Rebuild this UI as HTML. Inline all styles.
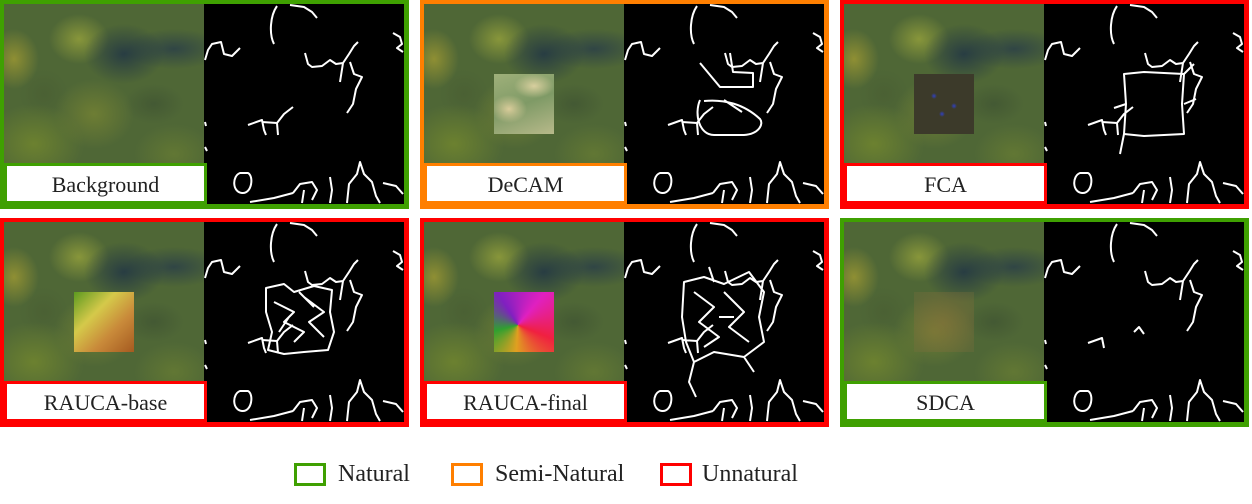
<!DOCTYPE html>
<html><head><meta charset="utf-8"><style>
body{margin:0;width:1252px;height:504px;background:#fff;position:relative;overflow:hidden;font-family:"Liberation Serif",serif}
.panel{position:absolute;width:400px;height:200px;border:5px solid;border-left-width:4px;border-top-width:4px}
.aerial{position:absolute;left:0;top:0;width:200px;height:200px;
background:
radial-gradient(ellipse 40px 30px at 120px 50px,rgba(30,50,70,.8),transparent),
radial-gradient(ellipse 50px 20px at 170px 45px,rgba(35,55,75,.7),transparent),
radial-gradient(ellipse 30px 25px at 75px 35px,rgba(160,170,60,.7),transparent),
radial-gradient(ellipse 25px 30px at 10px 55px,rgba(170,160,50,.7),transparent),
radial-gradient(ellipse 40px 35px at 90px 110px,rgba(130,140,50,.6),transparent),
radial-gradient(ellipse 50px 40px at 30px 140px,rgba(120,140,45,.7),transparent),
radial-gradient(ellipse 40px 30px at 170px 150px,rgba(110,130,50,.6),transparent),
radial-gradient(ellipse 60px 25px at 100px 185px,rgba(50,70,60,.6),transparent),
radial-gradient(ellipse 30px 20px at 150px 100px,rgba(60,80,50,.6),transparent),
radial-gradient(ellipse 25px 25px at 40px 90px,rgba(70,90,50,.5),transparent),
#4f6736}
.edges{position:absolute;left:200px;top:0;width:200px;height:200px;background:#000}
.patch{position:absolute;left:70px;top:70px;width:60px;height:60px}
.label{position:absolute;left:0;top:159px;width:197px;height:35px;border:3px solid;background:#fff;font-size:22px;text-align:center;line-height:38px;color:#222}
.leg{position:absolute;top:463px;width:26px;height:17px;border:3px solid}
.legt{position:absolute;top:461px;font-size:24px;color:#222}
</style></head><body>
<div id="fig"></div>
<div class="leg" style="left:294px;border-color:#3fa001"></div>
<div class="legt" style="left:338px">Natural</div>
<div class="leg" style="left:451px;border-color:#ff7f00"></div>
<div class="legt" style="left:495px">Semi-Natural</div>
<div class="leg" style="left:660px;border-color:#ff0000"></div>
<div class="legt" style="left:702px">Unnatural</div>
<script>
const names=["Background","DeCAM","FCA","RAUCA-base","RAUCA-final","SDCA"];
const colors=["#3fa001","#ff7f00","#ff0000","#ff0000","#ff0000","#3fa001"];
const patchBg=["none",
"radial-gradient(ellipse 20px 12px at 40px 12px,#d8cf9e,transparent),radial-gradient(ellipse 18px 14px at 15px 35px,#d9cc9a,transparent),linear-gradient(160deg,#9fb07a,#7f9a66 50%,#b7b98a)",
"radial-gradient(circle 3px at 20px 22px,#3040c0,transparent),radial-gradient(circle 3px at 40px 32px,#3040c0,transparent),radial-gradient(circle 3px at 28px 40px,#3040c0,transparent),#3c3a2a",
"linear-gradient(135deg,#5c9a20,#d5c94a 35%,#c98a3a 65%,#a55a20)",
"conic-gradient(from 40deg at 40% 55%,#e020c0,#f02040,#e0a020,#30a030,#8020c0,#e020c0)",
"radial-gradient(circle at 50% 50%,rgba(150,110,60,.45),rgba(120,110,60,.3))"];
const base="M73,2 C66,12 65,30 70,40 M86,1 L100,3 L108,8 L113,14 M1,56 L4,46 L8,40 L17,38 L20,50 L28,52 L36,44 M101,49 L104,60 L108,63 L118,62 L126,56 L132,60 L139,59 L145,50 L150,42 L154,38 M139,59 L136,78 M146,58 L150,70 L158,73 L152,85 L149,100 L143,109 M189,29 L196,33 L198,40 L193,44 L199,48 M44,121 L58,116 L60,126 L62,131 M58,118 L73,119 L80,110 L89,103 M73,119 L74,131 M1,118 L2,122 M1,143 L3,147 M36,169 C28,172 28,188 38,189 C48,190 50,172 44,169 Z M46,198 L70,194 L89,189 M89,189 L96,180 L108,178 L113,186 L108,196 M100,186 L98,199 M126,173 L128,186 L126,199 M143,199 L145,180 L153,170 L156,158 L160,170 L168,178 L172,192 L176,199 M179,179 L192,182 L199,190";
const patchEdges=["",
"M76,59 L96,83 L129,83 L129,69 L109,68 L106,49 M76,96 C70,110 75,131 90,131 L120,131 C135,130 140,120 136,115 C120,100 100,95 80,97 M100,96 L118,108",
"M80,70 L100,68 L140,70 L138,100 L140,130 L100,132 L80,130 L82,100 Z M140,70 L150,60 M140,100 L152,95 M80,130 L76,150 M82,100 L70,104",
"M62,66 L80,62 L90,70 L110,64 L128,68 L126,90 L130,110 L124,128 L100,130 L80,132 L64,128 L68,110 L62,90 Z M70,80 L90,90 L80,100 L100,110 L90,120 M100,75 L120,90 L105,100 L120,115 M75,110 L85,95 M110,85 L95,70",
"M60,60 L80,55 L100,62 L125,50 L140,70 L135,95 L140,120 L120,135 L90,130 L70,140 L62,120 L58,95 Z M70,70 L90,85 L75,100 L95,115 L80,125 M100,70 L120,90 L105,105 L125,120 M70,140 L65,160 L72,175 M120,135 L130,150 M90,60 L85,45 M110,95 L95,95",
"M90,110 L95,105 L100,112"];
const fig=document.getElementById('fig');
names.forEach((n,i)=>{
  const col=i%3,row=Math.floor(i/3);
  const p=document.createElement('div');
  p.className='panel';
  
  
  p.style.left=(col*420)+'px';p.style.top=(row*218)+'px';p.style.borderColor=colors[i];
  const a=document.createElement('div');a.className='aerial';
  
  
  if(patchBg[i]!=="none"){const pt=document.createElement('div');pt.className='patch';pt.style.background=patchBg[i];
    
    
    a.appendChild(pt);}
  p.appendChild(a);
  const e=document.createElement('div');e.className='edges';
  
  
  let d=base;if(i===5)d=base.replace("M44,121 L58,116 L60,126 L62,131 M58,118 L73,119 L80,110 L89,103 M73,119 L74,131","M44,121 L58,116 L60,126");
  e.innerHTML='<svg width="200" height="200"><path d="'+d+' '+patchEdges[i]+'" fill="none" stroke="#fff" stroke-width="2" stroke-linejoin="round"/></svg>';
  p.appendChild(e);
  const l=document.createElement('div');l.className='label';l.style.borderColor=colors[i];l.textContent=n;
  
  
  p.appendChild(l);
  fig.appendChild(p);
});
</script>
</body></html>
